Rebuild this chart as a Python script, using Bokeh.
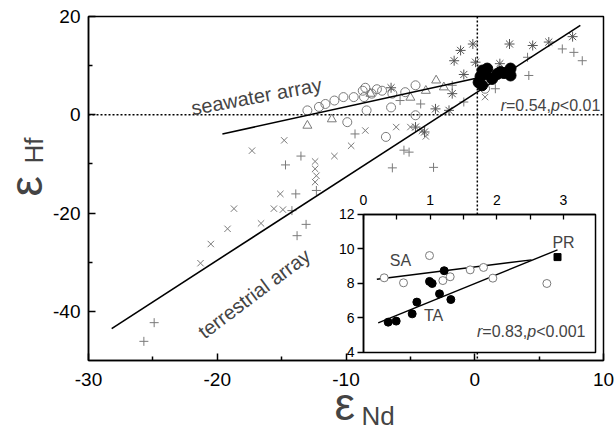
from bokeh.plotting import figure
from bokeh.models import Range1d, LinearAxis, FixedTicker, Label
from bokeh.embed import file_html
from bokeh.resources import INLINE

# ---------------- main panel data (eps_Nd, eps_Hf) ----------------
circ_x = [-13.0, -12.1, -11.6, -10.9, -10.2, -9.4, -8.7, -8.5, -8.0, -7.2, -6.4, -5.4, -4.6,
          -8.4, -6.5, -4.6, -9.9, -6.9, 0.8, -8.6, -7.6]
circ_y = [0.9, 1.6, 2.2, 2.9, 3.6, 3.6, 4.9, 5.5, 4.3, 4.9, 4.3, 4.6, 6.0,
          0.9, 1.5, -0.1, -1.5, -4.5, 5.3, 3.6, 5.2]

tri_x = [-13.0, -11.1, -8.1, -5.0, -3.8, -3.0, -2.4]
tri_y = [-2.2, -0.9, 4.3, 3.5, 4.9, 7.0, 5.6]

xmark_x = [-17.3, -14.8, -15.1, -18.7, -15.6, -14.9, -19.2, -20.5, -21.3, -16.6, -12.4, -12.4,
           -12.3, -12.4, -10.9, -9.6, -8.5, -6.1, -5.0, -4.1, -3.8, 0.8]
xmark_y = [-7.3, -5.2, -16.1, -19.1, -19.1, -19.3, -23.2, -26.3, -30.2, -22.1, -9.5, -11.0,
           -12.4, -13.7, -8.4, -6.3, -3.2, -2.5, -2.5, -3.3, -4.4, 3.6]

plus_x = [-25.7, -24.9, -13.8, -13.1, -14.2, -13.9, -12.3, -14.7, -13.5, -9.3, -6.4, -3.2,
          -5.5, -5.1, -5.8, -4.2, -0.85, -1.75, 1.6, 4.1, 4.2, 6.8, 7.7, 8.35]
plus_y = [-46.1, -42.3, -24.6, -22.3, -19.5, -16.1, -15.4, -10.2, -8.4, -3.9, -10.8, -10.7,
          -7.2, -7.6, 2.9, 2.2, 2.6, 6.0, 5.3, 11.7, 8.0, 13.4, 12.7, 11.0]

ast_x = [-1.1, -0.15, -1.6, 0.06, -0.85, -1.75, -3.05, -2.0, -4.6, -3.9, -6.5, 2.7, 4.5, 5.75, 7.6, 1.95]
ast_y = [13.1, 14.4, 11.0, 10.7, 8.2, 4.3, 1.2, 0.9, -2.5, -3.5, 5.5, 14.4, 14.1, 14.8, 15.9, 10.4]

fill_x = [0.45, 0.97, 0.57, 1.35, 2.0, 2.78, 2.78, 0.83, 0.3, 1.74, 2.26, 0.6]
fill_y = [7.8, 9.4, 6.0, 7.3, 8.7, 9.4, 8.0, 8.3, 6.6, 8.3, 8.5, 9.0]

# regression arrays (end points)
sw_x = [-19.6, 0.2]
sw_y = [-3.9, 7.5]
ter_x = [-28.2, 8.2]
ter_y = [-43.5, 18.2]

ref_x = 0.2   # vertical dotted reference
ref_y = 0.0   # horizontal dotted reference

x_ticks = [-30, -20, -10, 0, 10]
x_minor = [-25, -15, -5, 5]
y_ticks = [-40, -20, 0, 20]
y_minor = [-30, -10, 10]

# ---------------- inset data ----------------
sa_x = [0.31, 0.60, 0.99, 1.19, 1.30, 1.60, 1.80, 1.94, 2.75]
sa_y = [8.33, 8.04, 9.62, 8.17, 8.39, 8.79, 8.93, 8.31, 8.0]
ta_x = [0.37, 0.49, 0.73, 0.80, 0.99, 1.03, 1.21, 1.14, 1.31]
ta_y = [5.76, 5.82, 6.24, 6.92, 8.12, 8.0, 8.74, 7.40, 7.07]
pr_x = [2.91]
pr_y = [9.53]
sal_x = [0.20, 2.52]
sal_y = [8.25, 9.37]
tal_x = [0.22, 2.91]
tal_y = [5.72, 9.95]
in_xt = [0, 1, 2, 3]
in_xminor = [0.5, 1.5, 2.5]
in_yt = [4, 6, 8, 10, 12]
in_xr = (0.0, 3.48)
in_yr = (4.0, 12.0)

FONT = "Liberation Sans"
GRAY = "#7a7a7a"

# ---------------- layout ----------------
W, H = 616, 431
PL, PR, PT, PB = 88, 13, 16, 71          # px padding around the plot box
XR = (-30, 10)
YR = (-50, 20)
kx = (XR[1] - XR[0]) / (W - PL - PR)
ky = (YR[1] - YR[0]) / (H - PT - PB)
FX = (XR[0] - PL * kx, XR[1] + PR * kx)
FY = (YR[0] - PB * ky, YR[1] + PT * ky)

def px2x(px):
    return XR[0] + (px - PL) * kx

def py2y(py):
    return YR[1] - (py - PT) * ky

# inset box placement in main data units
box_l, box_r, box_b, box_t = -8.64, 9.38, -48.37, -20.29

p = figure(width=W, height=H, min_border=0, x_range=Range1d(*FX), y_range=Range1d(*FY),
           x_axis_location=None, y_axis_location=None,
           output_backend="svg", toolbar_location=None)
p.grid.visible = False
p.outline_line_color = None
p.background_fill_color = "white"
p.border_fill_color = "white"

# plot box
p.quad(left=[XR[0]], right=[XR[1]], bottom=[YR[0]], top=[YR[1]], fill_color=None,
       line_color="black", line_width=1.5)

xa = LinearAxis(fixed_location=YR[0], bounds=XR, ticker=FixedTicker(ticks=x_ticks, minor_ticks=x_minor))
ya = LinearAxis(fixed_location=XR[0], bounds=YR, ticker=FixedTicker(ticks=y_ticks, minor_ticks=y_minor))
for ax in (xa, ya):
    ax.axis_line_width = 1.5
    ax.major_tick_line_width = 1.5
    ax.minor_tick_line_width = 1.5
    ax.major_tick_out = 0
    ax.minor_tick_out = 0
    ax.major_tick_in = 7
    ax.minor_tick_in = 4
    ax.major_label_text_font = FONT
    ax.major_label_text_font_size = "19px"
    ax.major_label_text_color = "black"
xa.major_label_overrides = {t: str(t) for t in x_ticks}
ya.major_label_overrides = {t: str(t) for t in y_ticks}
xa.major_label_standoff = 12
ya.major_label_standoff = 8
p.add_layout(xa, "below")
p.add_layout(ya, "left")

# dotted reference lines
p.segment(x0=[XR[0]], y0=[ref_y], x1=[XR[1]], y1=[ref_y], line_color="black", line_width=1.5, line_dash="2 2")
p.segment(x0=[ref_x], y0=[YR[1]], x1=[ref_x], y1=[YR[0]], line_color="black", line_width=1.5, line_dash="2 2")

p.scatter(circ_x, circ_y, marker="circle", size=9, fill_color=None, line_color=GRAY, line_width=1)
p.scatter(tri_x, tri_y, marker="triangle", size=9, fill_color=None, line_color=GRAY, line_width=1)
p.scatter(xmark_x, xmark_y, marker="x", size=9, line_color=GRAY, line_width=1)
p.scatter(plus_x, plus_y, marker="cross", size=9, line_color=GRAY, line_width=1)
p.scatter(ast_x, ast_y, marker="asterisk", size=10, line_color="#555555", line_width=1)
p.line(sw_x, sw_y, line_color="black", line_width=1.6)
p.line(ter_x, ter_y, line_color="black", line_width=1.6)
p.scatter(fill_x, fill_y, marker="circle", size=11, fill_color="black", line_color="black")

p.add_layout(Label(x=-22.0, y=1.3, text="seawater array", angle=10.5, angle_units="deg",
                   text_font=FONT, text_font_size="20px", text_baseline="alphabetic"))
p.add_layout(Label(x=-21.3, y=-44.6, text="terrestrial array", angle=37, angle_units="deg",
                   text_font=FONT, text_font_size="20px", text_baseline="alphabetic"))

def rich(x, y, parts, size, xr=None, yr=None):
    # parts listed right-to-left with widths (px) for right alignment
    off = 0.0
    for txt, italic, w in parts:
        kw = {}
        if xr:
            kw = dict(x_range_name=xr, y_range_name=yr)
        p.add_layout(Label(x=x, y=y, x_offset=-off, text=txt, text_align="right",
                           text_baseline="middle", text_font=FONT, text_font_size=size,
                           text_font_style="italic" if italic else "normal", **kw))
        off += w

rich(9.75, 1.9, [("<0.01", False, 40.5), ("p", True, 8.9), ("=0.54,", False, 44.9), ("r", True, 5.3)], "16px")

# ---------------- inset ----------------
sx = (in_xr[1] - in_xr[0]) / (box_r - box_l)
sy = (in_yr[1] - in_yr[0]) / (box_t - box_b)
p.extra_x_ranges = {"ix": Range1d(in_xr[0] - (box_l - FX[0]) * sx, in_xr[1] + (FX[1] - box_r) * sx)}
p.extra_y_ranges = {"iy": Range1d(in_yr[0] - (box_b - FY[0]) * sy, in_yr[1] + (FY[1] - box_t) * sy)}
R = dict(x_range_name="ix", y_range_name="iy")

p.quad(left=[in_xr[0]], right=[in_xr[1]], bottom=[in_yr[0]], top=[in_yr[1]], fill_color="white",
       line_color="black", line_width=1.5, **R)
p.line(sal_x, sal_y, line_color="black", line_width=1.4, **R)
p.line(tal_x, tal_y, line_color="black", line_width=1.4, **R)
p.scatter(sa_x, sa_y, marker="circle", size=8, fill_color="white", line_color=GRAY, line_width=1, **R)
p.scatter(ta_x, ta_y, marker="circle", size=8, fill_color="black", line_color="black", **R)
p.scatter(pr_x, pr_y, marker="square", size=7, fill_color="black", line_color="black", **R)

for t, x, y in (("SA", 0.555, 9.33), ("TA", 1.05, 6.14), ("PR", 3.0, 10.4)):
    p.add_layout(Label(x=x, y=y, text=t, text_align="center", text_baseline="middle",
                       text_font=FONT, text_font_size="16px", **R))
rich(3.33, 5.22, [("<0.001", False, 49.4), ("p", True, 8.9), ("=0.83,", False, 44.9), ("r", True, 5.3)],
     "16px", "ix", "iy")

ixa = LinearAxis(fixed_location=in_yr[1], bounds=in_xr,
                 ticker=FixedTicker(ticks=in_xt, minor_ticks=in_xminor), **R)
iya = LinearAxis(fixed_location=in_xr[0], bounds=in_yr,
                 ticker=FixedTicker(ticks=in_yt, minor_ticks=[]), **R)
for ax in (ixa, iya):
    ax.axis_line_width = 1.5
    ax.major_tick_line_width = 1.3
    ax.minor_tick_line_width = 1.3
    ax.major_label_text_font = FONT
    ax.major_label_text_font_size = "14px"
    ax.major_label_text_color = "black"
ixa.major_tick_in = 5
ixa.major_tick_out = 0
ixa.minor_tick_in = 5
ixa.minor_tick_out = 0
ixa.major_label_standoff = 9
iya.major_tick_in = 0
iya.major_tick_out = 6
iya.minor_tick_in = 0
iya.minor_tick_out = 0
iya.major_label_standoff = 3
p.add_layout(ixa, "above")
p.add_layout(iya, "left")

# ---------------- axis titles (page-pixel anchors, converted to data units) ----------------
EPS, SUB = 46, 26
SH = 0.33   # rendered baseline offset (em)
p.add_layout(Label(x=px2x(334), y=py2y(419 - SH * EPS), text="ε", text_font=FONT,
                   text_font_size=f"{EPS}px", text_baseline="alphabetic"))
p.add_layout(Label(x=px2x(361), y=py2y(424 - SH * SUB), text="Nd", text_font=FONT,
                   text_font_size=f"{SUB}px", text_baseline="alphabetic"))
p.add_layout(Label(x=px2x(41 - SH * EPS), y=py2y(196), text="ε", angle=90, angle_units="deg",
                   text_font=FONT, text_font_size=f"{EPS}px", text_baseline="alphabetic"))
p.add_layout(Label(x=px2x(42 - SH * SUB), y=py2y(163), text="Hf", angle=90, angle_units="deg",
                   text_font=FONT, text_font_size=f"{SUB}px", text_baseline="alphabetic"))

open("out.html", "w").write(file_html(p, INLINE))
